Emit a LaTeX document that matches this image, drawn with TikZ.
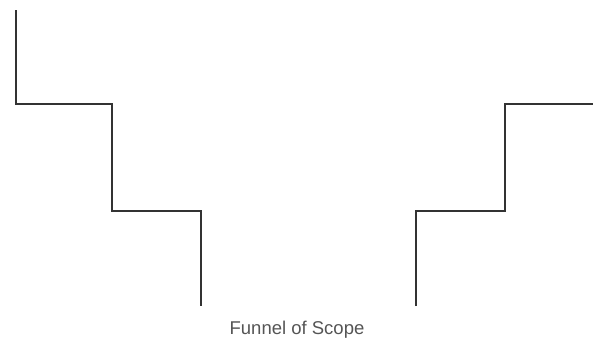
\documentclass[tikz,border=0pt]{standalone}
\usepackage{fontspec}
\setmainfont{Liberation Sans}
\definecolor{linec}{HTML}{333333}
\definecolor{textc}{HTML}{555555}
\tikzset{stair/.style={draw=linec, line width=1.6pt, line join=miter}}
\begin{document}
\begin{tikzpicture}[x=1pt,y=-1pt]
\useasboundingbox (0,0) rectangle (593,341);
\coordinate (l0) at (16,10);
\coordinate (l1) at (16,104);
\coordinate (l2) at (112,104);
\coordinate (l3) at (112,211);
\coordinate (l4) at (201,211);
\coordinate (l5) at (201,306);
\coordinate (r0) at (416,306);
\coordinate (r1) at (416,211);
\coordinate (r2) at (505,211);
\coordinate (r3) at (505,104);
\coordinate (r4) at (593,104);
\draw[stair] (l0) -- (l1) -- (l2) -- (l3) -- (l4) -- (l5);
\draw[stair] (r0) -- (r1) -- (r2) -- (r3) -- (r4);
\node[text=textc, font=\fontsize{18.5}{22}\selectfont, anchor=base] (cap) at (297,334) {Funnel of Scope};
\end{tikzpicture}
\end{document}
